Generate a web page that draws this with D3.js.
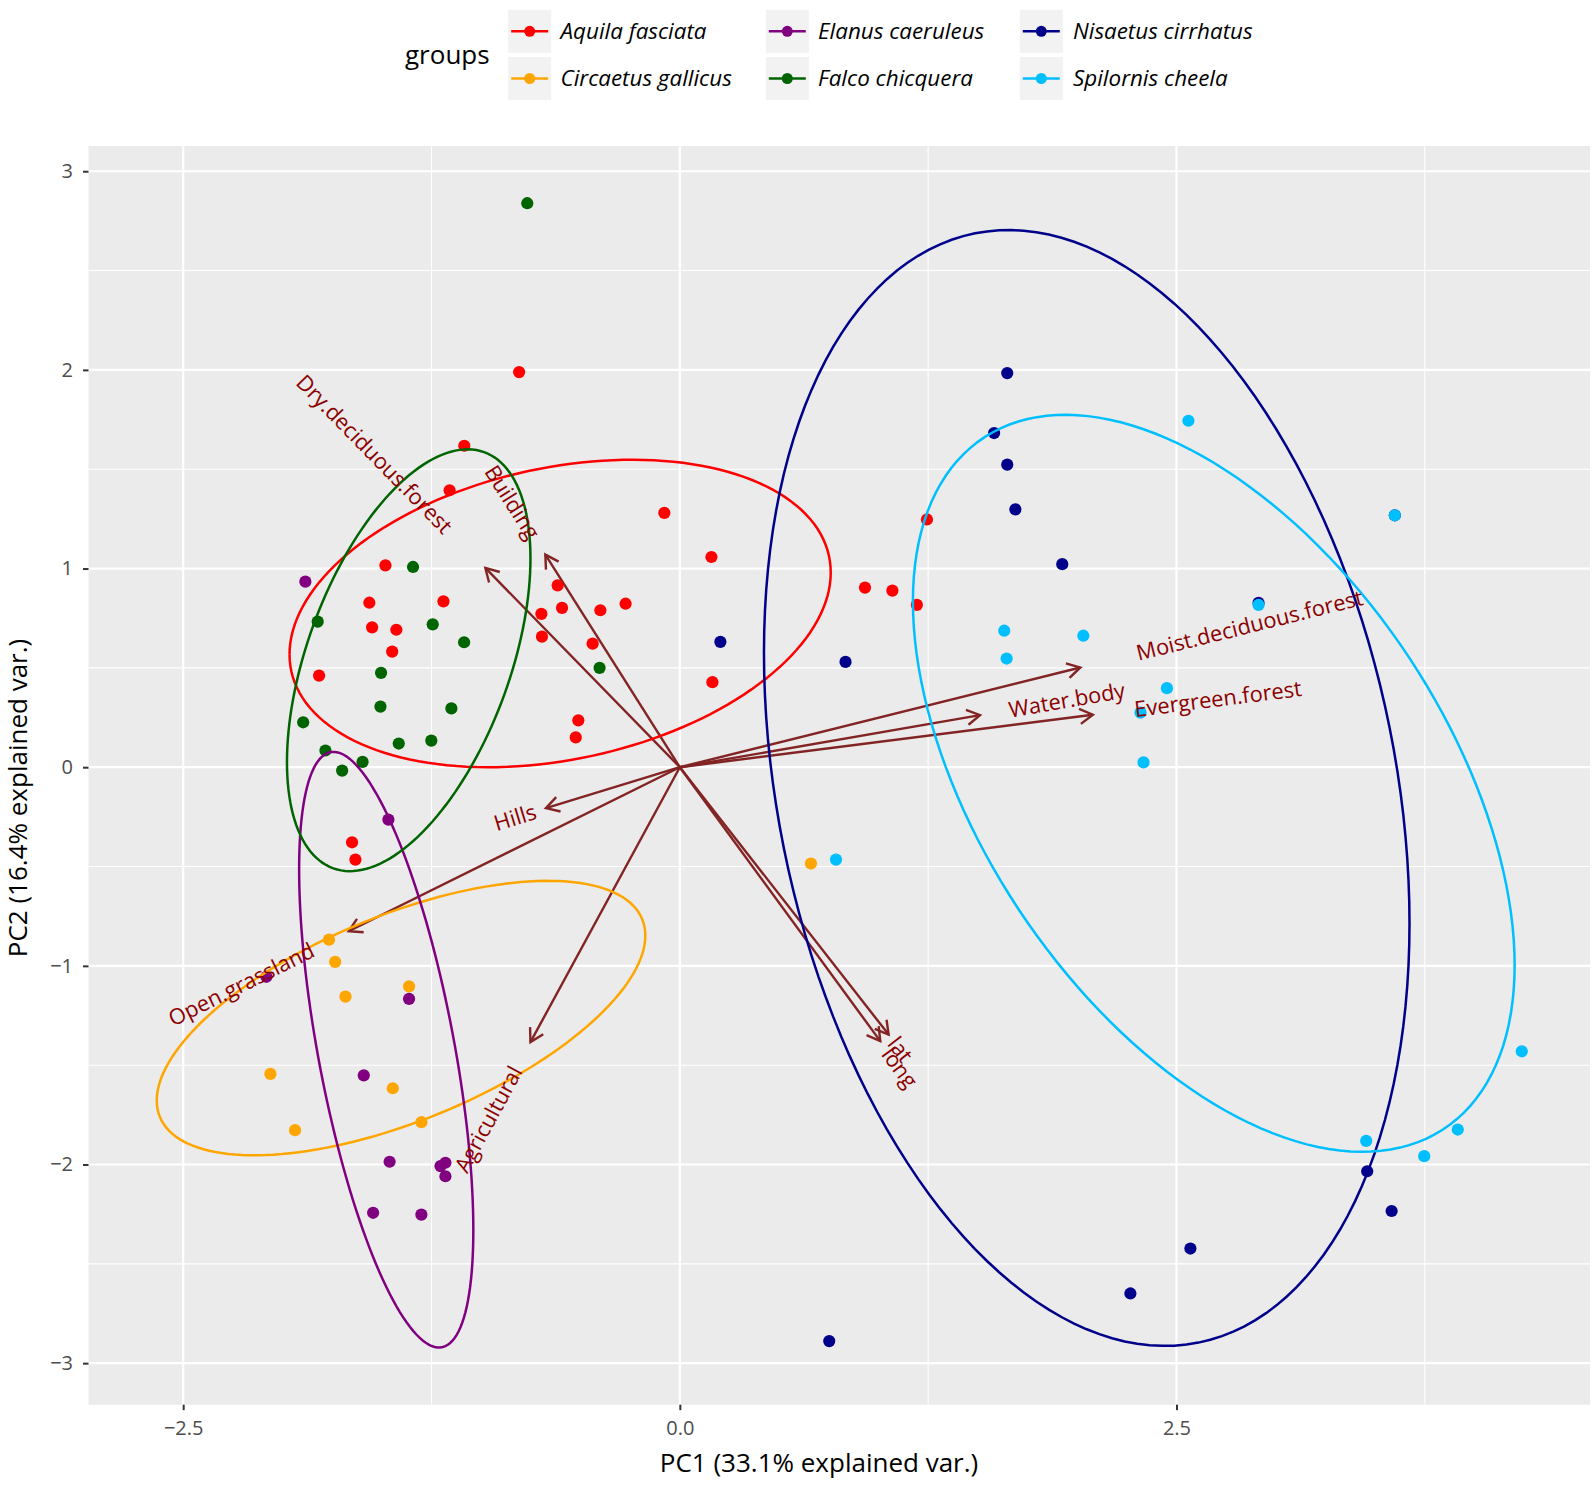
<!DOCTYPE html>
<html>
<head>
<meta charset="utf-8">
<script src="https://cdn.jsdelivr.net/npm/d3@7"></script>
<style>
  body { margin: 0; background: #ffffff; }
  text { font-family: "Open Sans", "Noto Sans", sans-serif; }
</style>
</head>
<body>
<svg id="chart" width="1595" height="1486"></svg>
<script>
// ---------------- DATA ----------------
const groups = ["Aquila fasciata", "Circaetus gallicus", "Elanus caeruleus",
                "Falco chicquera", "Nisaetus cirrhatus", "Spilornis cheela"];
const groupColors = ["#FF0000", "#FFA500", "#800080", "#006400", "#00008B", "#00BFFF"];

const aquilaPC1 = [-1.085,-1.159,-0.078,-1.482,-1.563,-1.190,-0.615,-0.593,-0.697,-0.400,-0.273,-1.549,-1.427,-0.694,-0.439,-1.448,-1.816,-0.511,-0.524,-1.650,-1.633,-0.809,0.159,0.164,0.932,1.070,1.193,1.244];
const aquilaPC2 = [1.618,1.394,1.280,1.016,0.828,0.835,0.915,0.802,0.772,0.790,0.823,0.704,0.692,0.657,0.622,0.582,0.461,0.236,0.150,-0.378,-0.465,1.989,1.058,0.428,0.904,0.889,0.817,1.247];

const circaetusPC1 = [-1.766,-1.735,-1.683,-1.363,-2.061,-1.445,-1.937,-1.301,0.660];
const circaetusPC2 = [-0.868,-0.980,-1.155,-1.103,-1.544,-1.616,-1.827,-1.787,-0.485];

const elanusPC1 = [-1.885,-1.467,-2.081,-1.363,-1.591,-1.461,-1.205,-1.180,-1.180,-1.544,-1.301];
const elanusPC2 = [0.934,-0.264,-1.055,-1.166,-1.551,-1.986,-2.008,-1.991,-2.059,-2.243,-2.252];

const falcoPC1 = [-0.768,-1.343,-1.823,-1.244,-1.086,-0.404,-1.504,-1.507,-1.150,-1.896,-1.415,-1.251,-1.784,-1.597,-1.700];
const falcoPC2 = [2.839,1.008,0.733,0.719,0.629,0.500,0.475,0.305,0.296,0.226,0.119,0.134,0.084,0.027,-0.017];

// last point sits under a Spilornis point (hidden in the picture)
const nisaetusPC1 = [1.648,1.582,1.648,1.689,1.925,2.913,0.834,0.204,3.460,3.583,2.570,2.268,0.752,3.599];
const nisaetusPC2 = [1.984,1.682,1.523,1.298,1.022,0.827,0.530,0.631,-2.034,-2.234,-2.423,-2.649,-2.889,1.268];

const spilornisPC1 = [2.560,3.599,2.913,1.633,1.645,2.031,2.452,2.319,2.334,0.786,4.238,3.916,3.747,3.455];
const spilornisPC2 = [1.744,1.268,0.817,0.687,0.547,0.662,0.398,0.275,0.024,-0.465,-1.430,-1.824,-1.958,-1.881];

const varNames = ["long", "lat", "Agricultural", "Building", "Dry.deciduous.forest",
                  "Evergreen.forest", "Hills", "Moist.deciduous.forest", "Open.grassland", "Water.body"];
const varPC1 = [1.009, 1.051, -0.752, -0.677, -0.979, 2.079, -0.674, 2.016, -1.667, 1.511];
const varPC2 = [-1.379, -1.346, -1.384, 1.070, 1.003, 0.264, -0.206, 0.502, -0.826, 0.262];

const xTicks = [-2.5, 0, 2.5];
const xMinorTicks = [-1.25, 1.25, 3.75];
const yTicks = [-3, -2, -1, 0, 1, 2, 3];
const yMinorTicks = [-2.5, -1.5, -0.5, 0.5, 1.5, 2.5];

const xTitle = "PC1 (33.1% explained var.)";
const yTitle = "PC2 (16.4% explained var.)";
const legendTitle = "groups";
const ellipseProb = 0.68;

// ---------------- BUILD ----------------
const pc1 = [aquilaPC1, circaetusPC1, elanusPC1, falcoPC1, nisaetusPC1, spilornisPC1];
const pc2 = [aquilaPC2, circaetusPC2, elanusPC2, falcoPC2, nisaetusPC2, spilornisPC2];

const points = [];
groups.forEach((g, gi) => pc1[gi].forEach((v, i) => points.push({g: gi, x: v, y: pc2[gi][i]})));

const ED = Math.sqrt(-2 * Math.log(1 - ellipseProb)); // sqrt(qchisq(p, 2))
const NSEG = 160;
function ellipsePath(xs, ys) {
  const n = xs.length, mx = d3.mean(xs), my = d3.mean(ys);
  let sxx = 0, syy = 0, sxy = 0;
  for (let i = 0; i < n; i++) {
    const dx = xs[i] - mx, dy = ys[i] - my;
    sxx += dx * dx; syy += dy * dy; sxy += dx * dy;
  }
  sxx /= (n - 1); syy /= (n - 1); sxy /= (n - 1);
  const u11 = Math.sqrt(sxx), u12 = sxy / u11, u22 = Math.sqrt(syy - u12 * u12);
  return d3.range(NSEG + 1).map(i => {
    const t = -Math.PI + i * 2 * Math.PI / NSEG;
    const c = Math.cos(t), s = Math.sin(t);
    return [mx + ED * c * u11, my + ED * (c * u12 + s * u22)];
  });
}
const ellipses = groups.map((g, gi) => ellipsePath(pc1[gi], pc2[gi]));

const allX = points.map(p => p.x).concat(ellipses.flat().map(p => p[0]), varPC1, [0]);
const allY = points.map(p => p.y).concat(ellipses.flat().map(p => p[1]), varPC2, [0]);
let [xmin, xmax] = d3.extent(allX), [ymin, ymax] = d3.extent(allY);
const px = (xmax - xmin) * 0.05, py = (ymax - ymin) * 0.05;
xmin -= px; xmax += px; ymin -= py; ymax += py;

const panelLeft = 88.5, panelRight = 1590, panelTop = 146;
const k = (panelRight - panelLeft) / (xmax - xmin);
const panelBottom = panelTop + (ymax - ymin) * k;

const x = d3.scaleLinear().domain([xmin, xmax]).range([panelLeft, panelRight]);
const y = d3.scaleLinear().domain([ymin, ymax]).range([panelBottom, panelTop]);

const svg = d3.select("#chart");
svg.append("rect").attr("width", 1595).attr("height", 1486).attr("fill", "#fff");

// panel
svg.append("rect").attr("x", panelLeft).attr("y", panelTop)
  .attr("width", panelRight - panelLeft).attr("height", panelBottom - panelTop)
  .attr("fill", "#EBEBEB");

const grid = svg.append("g");
grid.selectAll(".xm").data(xMinorTicks).join("line")
  .attr("x1", d => x(d)).attr("x2", d => x(d)).attr("y1", panelTop).attr("y2", panelBottom)
  .attr("stroke", "#fff").attr("stroke-width", 1.1);
grid.selectAll(".ym").data(yMinorTicks).join("line")
  .attr("y1", d => y(d)).attr("y2", d => y(d)).attr("x1", panelLeft).attr("x2", panelRight)
  .attr("stroke", "#fff").attr("stroke-width", 1.1);
grid.selectAll(".xM").data(xTicks).join("line")
  .attr("x1", d => x(d)).attr("x2", d => x(d)).attr("y1", panelTop).attr("y2", panelBottom)
  .attr("stroke", "#fff").attr("stroke-width", 2.2);
grid.selectAll(".yM").data(yTicks).join("line")
  .attr("y1", d => y(d)).attr("y2", d => y(d)).attr("x1", panelLeft).attr("x2", panelRight)
  .attr("stroke", "#fff").attr("stroke-width", 2.2);

// axes
const xAxis = d3.axisBottom(x).tickValues(xTicks).tickFormat(d3.format(".1f")).tickSize(5.5).tickPadding(10.5);
const yAxis = d3.axisLeft(y).tickValues(yTicks).tickFormat(d3.format("d")).tickSize(5.5).tickPadding(10);
const gx = svg.append("g").attr("transform", `translate(0,${panelBottom})`).call(xAxis);
const gy = svg.append("g").attr("transform", `translate(${panelLeft},0)`).call(yAxis);
[gx, gy].forEach(g => {
  g.select(".domain").remove();
  g.selectAll(".tick line").attr("stroke", "#333333").attr("stroke-width", 2);
  g.selectAll(".tick text").attr("fill", "#4D4D4D").style("font-size", "20px")
    .style("font-family", '"Open Sans", "Noto Sans", sans-serif');
});

// axis titles
svg.append("text").attr("x", 819).attr("y", 1472).attr("text-anchor", "middle")
  .style("font-size", "26px").attr("fill", "#000").text(xTitle);
svg.append("text").attr("transform", "translate(27,798) rotate(-90)").attr("text-anchor", "middle")
  .style("font-size", "26px").attr("fill", "#000").text(yTitle);

// arrows (drawn first, like ggbiplot)
const arrowCol = "#832424";
const arrowLen = 15, arrowAng = Math.PI / 6;
const arrowsG = svg.append("g");
varNames.forEach((v, i) => {
  const x0 = x(0), y0 = y(0), x1 = x(varPC1[i]), y1 = y(varPC2[i]);
  arrowsG.append("line").attr("x1", x0).attr("y1", y0).attr("x2", x1).attr("y2", y1)
    .attr("stroke", arrowCol).attr("stroke-width", 2.4);
  const a = Math.atan2(y0 - y1, x0 - x1);
  const p1 = [x1 + arrowLen * Math.cos(a + arrowAng), y1 + arrowLen * Math.sin(a + arrowAng)];
  const p2 = [x1 + arrowLen * Math.cos(a - arrowAng), y1 + arrowLen * Math.sin(a - arrowAng)];
  arrowsG.append("path").attr("d", d3.line()([p1, [x1, y1], p2]))
    .attr("fill", "none").attr("stroke", arrowCol).attr("stroke-width", 2.4);
});

// points
svg.append("g").selectAll("circle").data(points).join("circle")
  .attr("cx", d => x(d.x)).attr("cy", d => y(d.y)).attr("r", 6.1)
  .attr("fill", d => groupColors[d.g]);

// ellipses
const line = d3.line().x(d => x(d[0])).y(d => y(d[1]));
svg.append("g").selectAll("path").data(ellipses).join("path")
  .attr("d", d => line(d)).attr("fill", "none")
  .attr("stroke", (d, i) => groupColors[i]).attr("stroke-width", 2.5);

// variable labels
const labG = svg.append("g");
varNames.forEach((v, i) => {
  const ang = Math.atan(varPC2[i] / varPC1[i]) * 180 / Math.PI;
  const g = labG.append("g")
    .attr("transform", `translate(${x(varPC1[i])},${y(varPC2[i])}) rotate(${-ang})`);
  const t = g.append("text").attr("fill", "#8B0000").style("font-size", "21.8px")
    .attr("dy", "0.35em").text(v);
  const w = t.node().getComputedTextLength();
  if (varPC1[i] > 0) t.attr("text-anchor", "start").attr("x", 0.25 * w);
  else t.attr("text-anchor", "end").attr("x", -0.25 * w);
});

// legend
svg.append("text").attr("x", 405).attr("y", 64).style("font-size", "26px")
  .attr("fill", "#000").text(legendTitle);
const keyX = [507.7, 765.3, 1019.3], labX = [560.5, 818, 1073], keyY = [9.3, 56.5];
const keySize = 44;
groups.forEach((gname, i) => {
  const c = Math.floor(i / 2), r = i % 2;
  const kx = keyX[c], ky = keyY[r];
  svg.append("rect").attr("x", kx).attr("y", ky).attr("width", keySize).attr("height", keySize)
    .attr("fill", "#F2F2F2").attr("stroke", "#fff").attr("stroke-width", 1);
  svg.append("line").attr("x1", kx + 3.5).attr("x2", kx + keySize - 3.5)
    .attr("y1", ky + keySize / 2).attr("y2", ky + keySize / 2)
    .attr("stroke", groupColors[i]).attr("stroke-width", 2.5);
  svg.append("circle").attr("cx", kx + keySize / 2).attr("cy", ky + keySize / 2).attr("r", 5.5)
    .attr("fill", groupColors[i]);
  svg.append("text").attr("x", labX[c]).attr("y", ky + keySize / 2).attr("dy", "0.35em")
    .style("font-size", "22.4px").style("font-style", "italic").attr("fill", "#000").text(gname);
});
</script>
</body>
</html>
